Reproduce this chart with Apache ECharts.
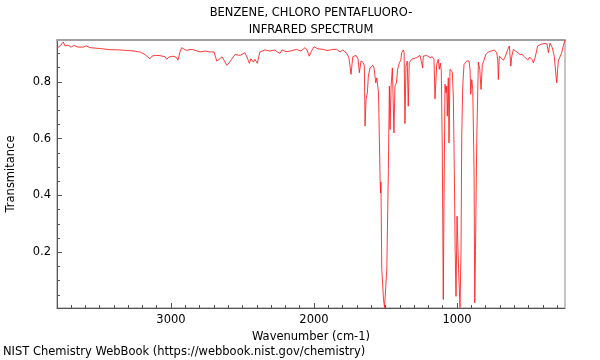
<!DOCTYPE html>
<html>
<head>
<meta charset="utf-8">
<script src="https://cdn.jsdelivr.net/npm/echarts@6/dist/echarts.min.js"></script>
<style>
html,body{margin:0;padding:0;background:#fff;}
#chart{width:600px;height:360px;}
</style>
</head>
<body>
<div id="chart"></div>
<script>
const titleLines = ['BENZENE, CHLORO PENTAFLUORO-', 'INFRARED SPECTRUM'];
const xName = 'Wavenumber (cm-1)';
const yName = 'Transmitance';
const footer = 'NIST Chemistry WebBook (https://webbook.nist.gov/chemistry)';

const xMajorTicks = [1000, 2000, 3000];
const xMinorTicks = [300,400,500,600,700,800,900,1000,1100,1200,1300,1400,1500,1600,1700,1800,1900,2000,2100,2200,2300,2400,2500,2600,2700,2800,2900,3000,3100,3200,3300,3400,3500,3600,3700];
const yMajorTicks = [0.2, 0.4, 0.6, 0.8];
const yMinorTicks = [0.05,0.1,0.15,0.2,0.25,0.3,0.35,0.4,0.45,0.5,0.55,0.6,0.65,0.7,0.75,0.8,0.85,0.9];

const wavenumbers = [
3797,3776,3753,3741,3720,3699,3678,3650,3615,3590,3566,3497,3427,3357,3275,3217,3182,3147,3133,3112,3077,3042,3030,3014,2986,2965,2951,2937,2925,2909,2890,2867,2846,
2797,2762,2727,2699,2680,2668,2657,2643,2629,2610,2594,2576,2552,2517,2483,2466,2452,2441,2424,2413,2397,2378,2343,2308,2273,2257,2238,2224,2196,2168,2121,2091,2063,2049,2033,2018,2000,1972,1935,1909,1888,1867,
1841,1818,1799,1771,1755,1741,1729,1706,1692,1683,1671,1655,1648,1643,1636,1627,1620,1608,1589,1580,1568,1561,1549,1542,1538,1534,1532,1526,1514,1507,1498,1491,1480,1473,1468,1461,1452,1445,1441,1434,1424,1415,1403,1393,1387,1375,
1370,1364,1357,1348,1341,1334,1317,1301,1282,1270,1259,1248,1240,1236,1212,1189,1173,1161,1154,1142,1131,1124,1117,1110,1103,1096,1091,1084,1077,1072,1068,1061,1056,1049,1042,1033,1026,1019,1013,1007,1000,993,989,979,972,967,960,951,932,916,909,904,897,890,881,876,871,862,851,
841,832,823,811,799,781,762,739,722,715,711,704,676,664,645,634,624,617,606,582,559,545,528,517,505,492,477,466,454,436,413,385,371,361,350,334,320,303,292,268,257,245
];
const transmittance = [
0.918,0.926,0.940,0.926,0.929,0.922,0.928,0.922,0.922,0.926,0.920,0.917,0.913,0.912,0.909,0.905,0.896,0.881,0.890,0.893,0.892,0.888,0.879,0.887,0.890,0.887,0.876,0.905,0.920,0.915,0.910,0.914,0.913,
0.905,0.908,0.905,0.905,0.873,0.878,0.881,0.888,0.876,0.858,0.866,0.879,0.896,0.893,0.902,0.884,0.865,0.881,0.869,0.879,0.865,0.905,0.912,0.908,0.912,0.905,0.900,0.912,0.906,0.908,0.914,0.908,0.920,0.912,0.890,0.908,0.923,0.916,0.914,0.910,0.912,0.914,
0.914,0.905,0.912,0.900,0.883,0.826,0.888,0.893,0.880,0.832,0.873,0.867,0.855,0.644,0.738,0.761,0.820,0.849,0.858,0.848,0.796,0.814,0.761,0.574,0.456,0.409,0.447,0.140,0.034,0.006,0.006,0.140,0.492,0.785,0.632,0.785,0.849,0.855,0.620,0.785,0.796,0.844,0.867,0.876,0.902,0.912,
0.902,0.653,0.855,0.873,0.714,0.867,0.879,0.882,0.885,0.885,0.893,0.887,0.849,0.890,0.893,0.885,0.888,0.879,0.740,0.861,0.879,0.844,0.866,0.838,0.560,0.034,0.383,0.791,0.761,0.785,0.679,0.814,0.585,0.844,0.849,0.834,0.750,0.492,0.207,0.045,0.327,0.327,0.139,0.006,0.207,0.609,0.785,0.861,0.873,0.873,0.844,0.756,0.808,0.773,0.493,0.022,0.207,0.594,0.869,
0.844,0.773,0.861,0.876,0.896,0.905,0.908,0.912,0.902,0.876,0.808,0.890,0.876,0.887,0.914,0.926,0.855,0.890,0.914,0.905,0.896,0.896,0.888,0.894,0.876,0.887,0.879,0.867,0.885,0.926,0.932,0.935,0.933,0.902,0.936,0.920,0.890,0.796,0.873,0.902,0.926,0.947
];

const X_MIN = 245, X_MAX = 3797, Y_MIN = 0.004, Y_MAX = 0.947;
const FONT = 'DejaVu Sans';
const FS = 11.5;

const chart = echarts.init(document.getElementById('chart'), null, {renderer: 'canvas'});
const seriesData = wavenumbers.map((w, i) => [w, transmittance[i]]);

const baseX = {type: 'value', min: X_MIN, max: X_MAX, inverse: true, splitLine: {show: false}, gridIndex: 0};
const baseY = {type: 'value', min: Y_MIN, max: Y_MAX, splitLine: {show: false}, gridIndex: 0};

chart.setOption({
  animation: false,
  backgroundColor: '#fff',
  grid: {left: 57, right: 35, top: 40, bottom: 52, containLabel: false, outerBoundsMode: 'none', show: true, borderColor: '#8c8c8c', borderWidth: 1, backgroundColor: 'transparent'},
  xAxis: [
    Object.assign({}, baseX, {
      position: 'bottom',
      name: xName, nameLocation: 'middle', nameGap: 17,
      nameTextStyle: {fontFamily: FONT, fontSize: FS, color: '#000'},
      axisLine: {show: true, onZero: false, lineStyle: {color: '#555', width: 1}},
      axisTick: {show: true, inside: true, length: 5, customValues: xMajorTicks, lineStyle: {color: '#555'}},
      axisLabel: {show: true, customValues: xMajorTicks, margin: 6, fontFamily: FONT, fontSize: FS, color: '#000', formatter: v => String(v)}
    }),
    Object.assign({}, baseX, {
      position: 'bottom',
      axisLine: {show: false, onZero: false},
      axisTick: {show: true, inside: true, length: 3, customValues: xMinorTicks, lineStyle: {color: '#555'}},
      axisLabel: {show: false}
    }),
    Object.assign({}, baseX, {
      position: 'top',
      axisLine: {show: true, onZero: false, lineStyle: {color: '#a0a0a0', width: 2}},
      axisTick: {show: false},
      axisLabel: {show: false}
    })
  ],
  yAxis: [
    Object.assign({}, baseY, {
      position: 'left',
      name: yName, nameLocation: 'middle', nameGap: 40,
      nameTextStyle: {fontFamily: FONT, fontSize: FS, color: '#000'},
      axisLine: {show: true, onZero: false, lineStyle: {color: '#555', width: 1}},
      axisTick: {show: true, inside: true, length: 5, customValues: yMajorTicks, lineStyle: {color: '#555'}},
      axisLabel: {show: true, customValues: yMajorTicks, margin: 6, fontFamily: FONT, fontSize: FS, color: '#000', formatter: v => String(v)}
    }),
    Object.assign({}, baseY, {
      position: 'left',
      axisLine: {show: false, onZero: false},
      axisTick: {show: true, inside: true, length: 3, customValues: yMinorTicks, lineStyle: {color: '#555'}},
      axisLabel: {show: false}
    })
  ],
  graphic: [
    {type: 'text', x: 311, y: 13, style: {text: titleLines[0], align: 'center', verticalAlign: 'middle', fontFamily: FONT, fontSize: FS, fill: '#000'}, silent: true},
    {type: 'text', x: 311, y: 30, style: {text: titleLines[1], align: 'center', verticalAlign: 'middle', fontFamily: FONT, fontSize: FS, fill: '#000'}, silent: true},
    {type: 'text', x: 3, y: 352, style: {text: footer, align: 'left', verticalAlign: 'middle', fontFamily: FONT, fontSize: FS, fill: '#000'}, silent: true}
  ],
  series: [{
    type: 'line',
    xAxisIndex: 0, yAxisIndex: 0,
    data: seriesData,
    showSymbol: false,
    symbol: 'none',
    smooth: false,
    clip: true,
    lineStyle: {color: '#ff1a1a', width: 1, opacity: 0.85},
    emphasis: {disabled: true}
  }]
});
</script>
</body>
</html>
